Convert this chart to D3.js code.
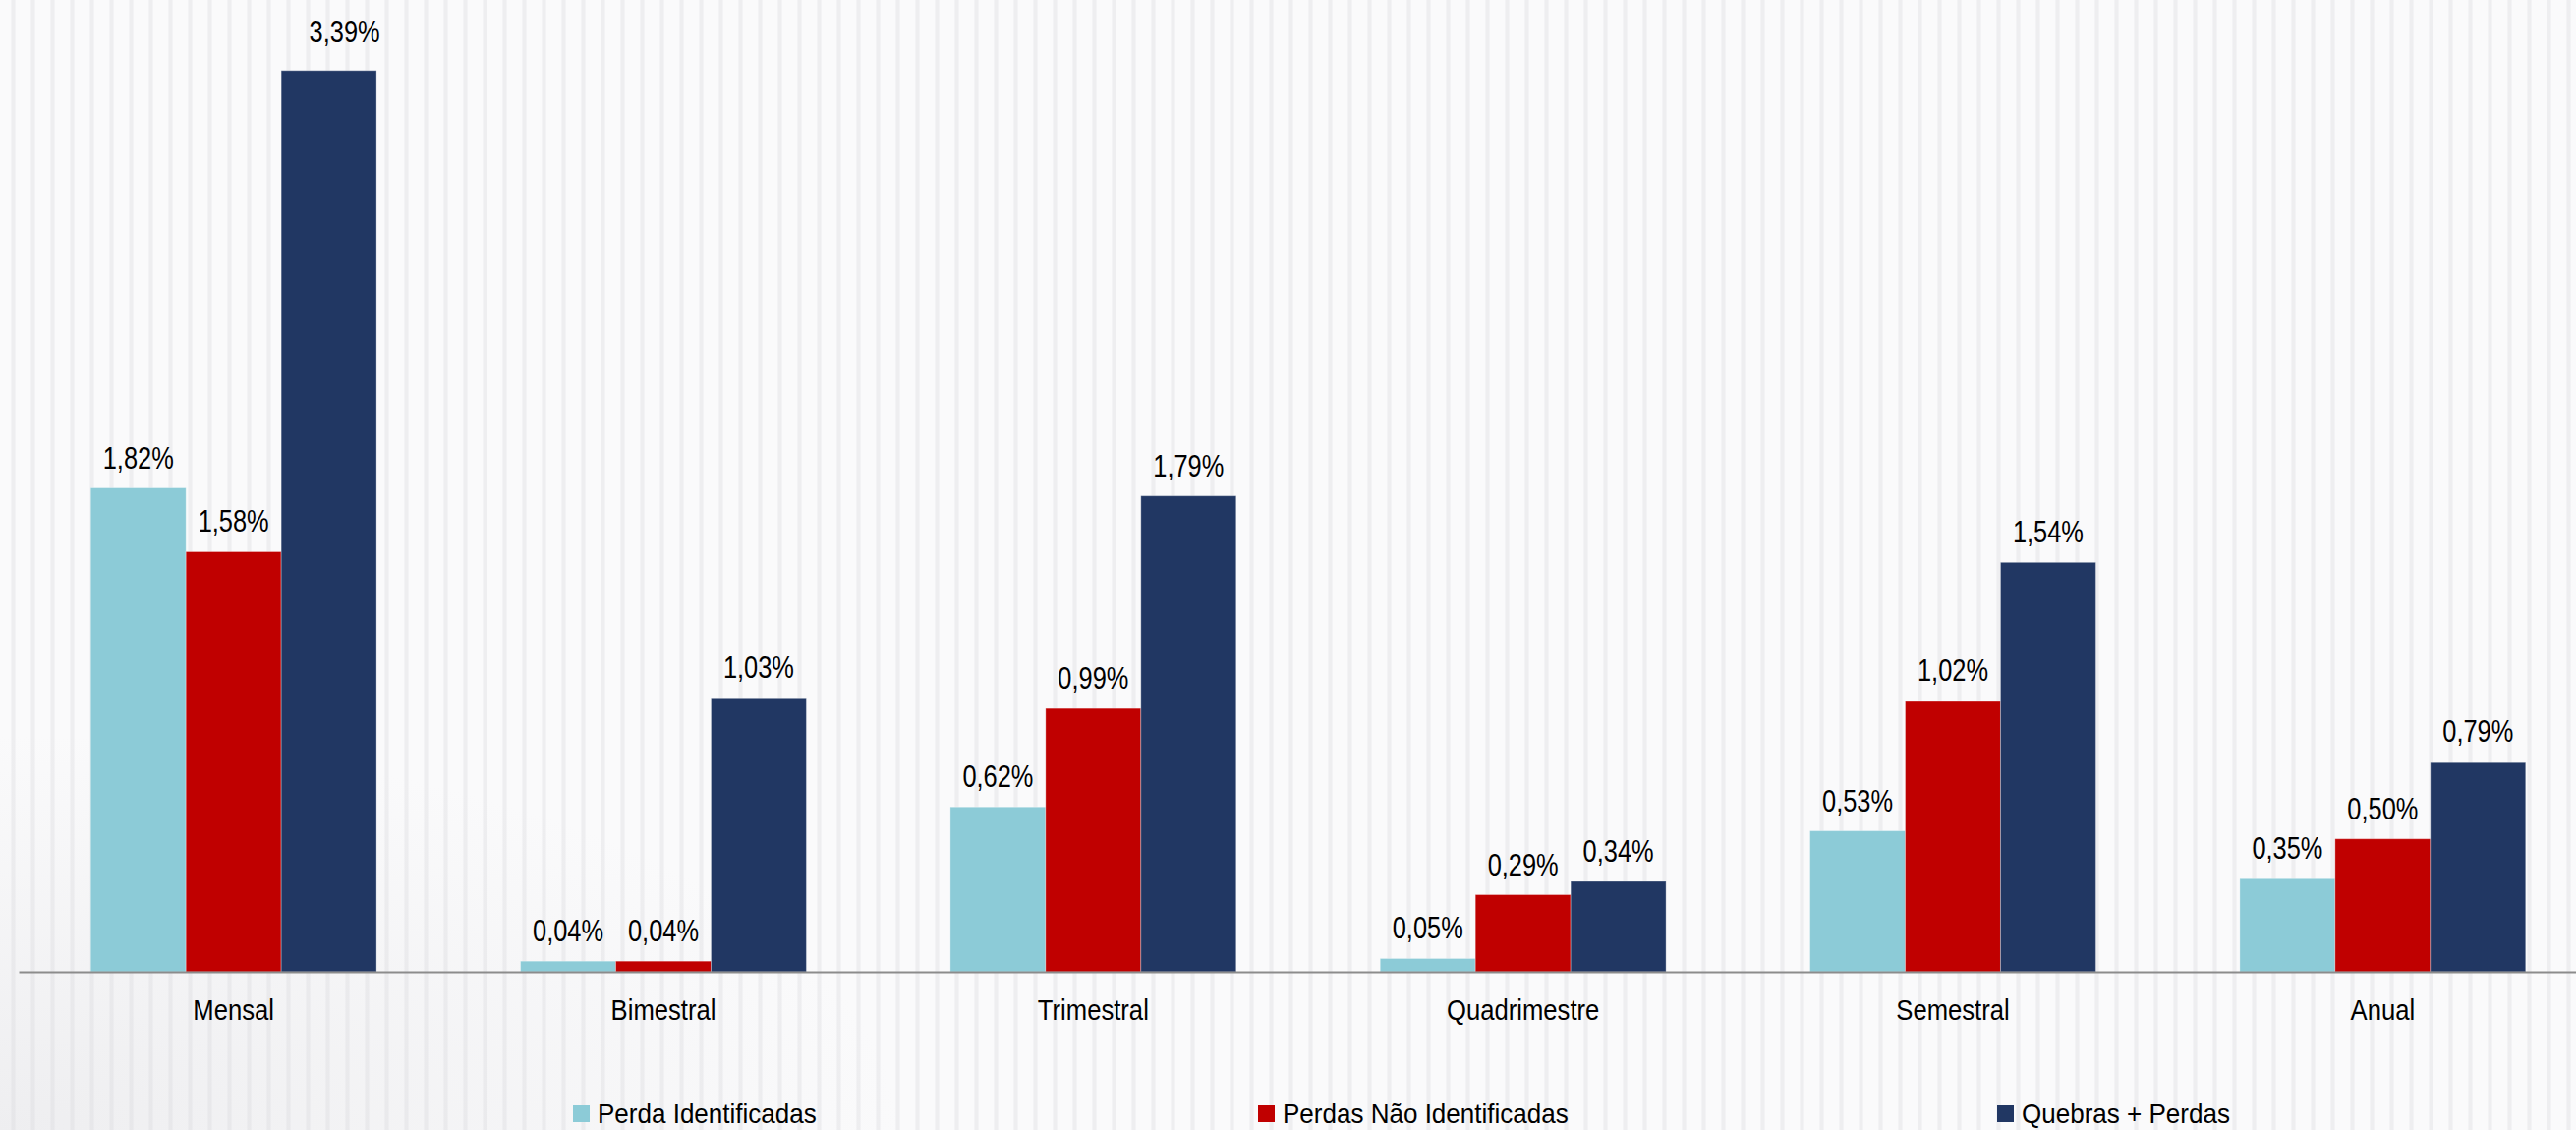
<!DOCTYPE html>
<html>
<head>
<meta charset="utf-8">
<script src="https://cdn.jsdelivr.net/npm/d3@7"></script>
<style>
  html, body { margin: 0; padding: 0; background: #fafafb; }
  svg { display: block; }
  text { font-family: "Liberation Sans", Arial, sans-serif; fill: #000; }
</style>
</head>
<body>
<svg id="chart" width="2621" height="1150"></svg>
<script>
// ---- data ----
const categories = ["Mensal", "Bimestral", "Trimestral", "Quadrimestre", "Semestral", "Anual"];
const seriesNames = ["Perda Identificadas", "Perdas Não Identificadas", "Quebras + Perdas"];
const perdaIdentificadas = [1.82, 0.04, 0.62, 0.05, 0.53, 0.35];
const perdasNaoIdentificadas = [1.58, 0.04, 0.99, 0.29, 1.02, 0.50];
const quebrasPerdas = [3.39, 1.03, 1.79, 0.34, 1.54, 0.79];
const seriesColors = ["#8ccbd7", "#c00000", "#213763"];

const seriesValues = [perdaIdentificadas, perdasNaoIdentificadas, quebrasPerdas];

// ---- layout ----
const W = 2621, H = 1150;
const baseY = 989, topY = 42;
const svg = d3.select("#chart");

// background stripes
const defs = svg.append("defs");
const pat = defs.append("pattern").attr("id", "stripes").attr("patternUnits", "userSpaceOnUse")
  .attr("width", 20).attr("height", 20).attr("x", 1);
pat.append("rect").attr("width", 20).attr("height", 20).attr("fill", "#fafafb");
pat.append("rect").attr("x", 10).attr("width", 5).attr("height", 20).attr("fill", "#f3f3f5");
pat.append("rect").attr("x", 11).attr("width", 3).attr("height", 20).attr("fill", "#eeeef0");
const rg = defs.append("radialGradient").attr("id", "shade").attr("cx", "0%").attr("cy", "100%").attr("r", "35%");
rg.append("stop").attr("offset", "0%").attr("stop-color", "#d8d8dc").attr("stop-opacity", 0.35);
rg.append("stop").attr("offset", "100%").attr("stop-color", "#d8d8dc").attr("stop-opacity", 0);
svg.append("rect").attr("width", W).attr("height", H).attr("fill", "url(#stripes)");
svg.append("rect").attr("width", W).attr("height", H).attr("fill", "url(#shade)");

const x = d3.scaleBand().domain(categories).range([19, 2643])
  .paddingInner(0.335).paddingOuter(0.1675);
const xs = d3.scaleBand().domain(seriesNames).range([0, x.bandwidth()]);
const y = d3.scaleLinear().domain([0, 3.5]).range([baseY, topY]);

const fmt = v => v.toFixed(2).replace(".", ",") + "%";

const rows = categories.map((c, i) => ({
  cat: c,
  vals: seriesNames.map((s, k) => ({ s, k, c, v: seriesValues[k][i] }))
}));

const groups = svg.append("g").selectAll("g").data(rows).join("g")
  .attr("transform", d => `translate(${x(d.cat)},0)`);

groups.selectAll("rect").data(d => d.vals).join("rect")
  .attr("x", d => xs(d.s))
  .attr("y", d => y(d.v))
  .attr("width", xs.bandwidth())
  .attr("height", d => baseY - y(d.v))
  .attr("fill", d => seriesColors[d.k])
  .attr("stroke", "rgba(255,255,255,0.3)")
  .attr("stroke-width", 1);

// the tallest label was moved by hand in the original (slightly up and right)
const nudge = d => (d.v === d3.max(quebrasPerdas) && d.k === 2) ? [16, -9] : [0, 0];

// value labels (condensed look via horizontal scale)
groups.selectAll("text.val").data(d => d.vals).join("text")
  .attr("class", "val")
  .attr("transform", d => {
    const [nx, ny] = nudge(d);
    return `translate(${xs(d.s) + xs.bandwidth() / 2 + nx},${y(d.v) - 20 + ny}) scale(0.82,1)`;
  })
  .attr("text-anchor", "middle")
  .style("font-size", "31px")
  .text(d => fmt(d.v));

// axis
const axis = d3.axisBottom(x).tickSize(0).tickPadding(0);
const ax = svg.append("g").attr("transform", `translate(0,${baseY})`).call(axis);
ax.select(".domain").attr("stroke", "#8c8c8c").attr("stroke-width", 2);
ax.selectAll(".tick text")
  .attr("y", 0).attr("dy", 0)
  .attr("transform", "translate(0,49) scale(0.855,1)")
  .style("font-size", "30px")
  .style("font-family", "'Liberation Sans', Arial, sans-serif")
  .attr("fill", "#000");

// legend
const legendX = [583, 1280, 2032];
const lg = svg.append("g").selectAll("g").data(seriesNames).join("g")
  .attr("transform", (d, i) => `translate(${legendX[i]},1143)`);
lg.append("rect").attr("x", 0).attr("y", -18).attr("width", 17).attr("height", 17)
  .attr("fill", (d, i) => seriesColors[i]);
lg.append("text")
  .attr("transform", "translate(25,0) scale(0.93,1)")
  .style("font-size", "28px")
  .text(d => d);
</script>
</body>
</html>
